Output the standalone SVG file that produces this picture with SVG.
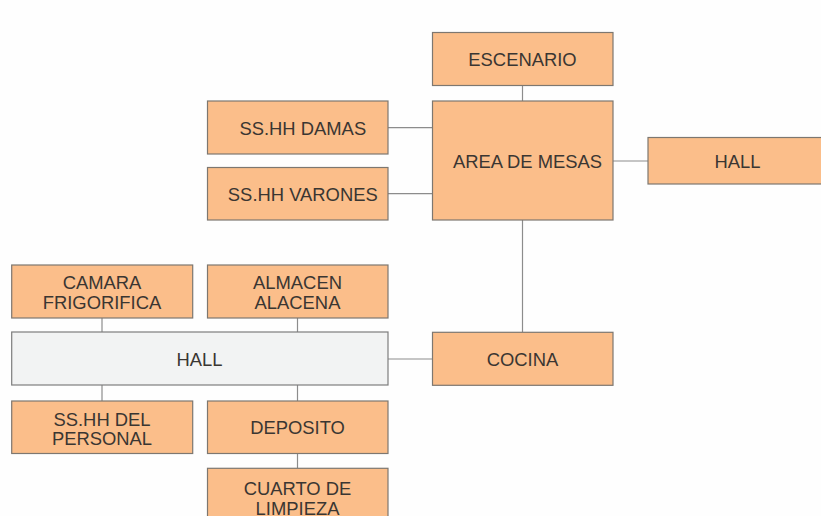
<svg xmlns="http://www.w3.org/2000/svg" width="821" height="516" viewBox="0 0 821 516">
<defs>
<style>
.n{fill:#FBBE8A;stroke:#7d7770;stroke-width:1.2}
.g{fill:#F2F3F3;stroke:#7d7d7d;stroke-width:1.2}
.t{font-family:"Liberation Sans",Arial,sans-serif;font-size:18.4px;fill:#3a3632;text-anchor:middle;dominant-baseline:central}
.c{stroke:#8c8c8c;stroke-width:1.2;fill:none}
</style>
</defs>
<rect width="821" height="516" fill="#FEFEFE"/>
<g id="connectors">
<line class="c" x1="522.5" y1="85.5" x2="522.5" y2="101"/>
<line class="c" x1="388" y1="127.7" x2="432" y2="127.7"/>
<line class="c" x1="388" y1="193.7" x2="432" y2="193.7"/>
<line class="c" x1="613" y1="161" x2="648" y2="161"/>
<line class="c" x1="522.5" y1="220" x2="522.5" y2="332"/>
<line class="c" x1="388" y1="359" x2="432" y2="359"/>
<line class="c" x1="102" y1="318" x2="102" y2="332"/>
<line class="c" x1="297.5" y1="318" x2="297.5" y2="332"/>
<line class="c" x1="102" y1="385" x2="102" y2="401"/>
<line class="c" x1="297.5" y1="385" x2="297.5" y2="401"/>
<line class="c" x1="297.5" y1="453" x2="297.5" y2="468"/>
</g>
<g id="escenario"><rect class="n" x="432.5" y="32.5" width="180.5" height="53"/><text class="t" x="522.5" y="59.5">ESCENARIO</text></g>
<g id="area-mesas"><rect class="n" x="432.5" y="101" width="180.5" height="119"/><text class="t" x="527.5" y="161.5">AREA DE MESAS</text></g>
<g id="sshh-damas"><rect class="n" x="207.5" y="101" width="180.5" height="53"/><text class="t" x="302.8" y="128.3">SS.HH DAMAS</text></g>
<g id="sshh-varones"><rect class="n" x="207.5" y="167.5" width="180.5" height="52.5"/><text class="t" x="302.8" y="194">SS.HH VARONES</text></g>
<g id="hall-right"><rect class="n" x="648" y="137.5" width="180" height="46.5"/><text class="t" x="737.5" y="161">HALL</text></g>
<g id="camara"><rect class="n" x="11.7" y="265" width="181" height="53"/><text class="t" x="102" y="282">CAMARA</text><text class="t" x="102" y="302.5">FRIGORIFICA</text></g>
<g id="almacen"><rect class="n" x="207.5" y="265" width="180.5" height="53"/><text class="t" x="297.5" y="282">ALMACEN</text><text class="t" x="297.5" y="302.5">ALACENA</text></g>
<g id="hall"><rect class="g" x="11.7" y="332" width="376.3" height="53"/><text class="t" x="199.5" y="359.3">HALL</text></g>
<g id="cocina"><rect class="n" x="432.5" y="332.3" width="180.5" height="53"/><text class="t" x="522.5" y="359.3">COCINA</text></g>
<g id="sshh-personal"><rect class="n" x="11.7" y="401" width="181" height="52.5"/><text class="t" x="102" y="419">SS.HH DEL</text><text class="t" x="102" y="438.7">PERSONAL</text></g>
<g id="deposito"><rect class="n" x="207.5" y="401" width="180.5" height="52.5"/><text class="t" x="297.5" y="427.3">DEPOSITO</text></g>
<g id="cuarto-limpieza"><rect class="n" x="207.5" y="468.3" width="180.5" height="60"/><text class="t" x="297.5" y="488">CUARTO DE</text><text class="t" x="297.5" y="508">LIMPIEZA</text></g>
</svg>
